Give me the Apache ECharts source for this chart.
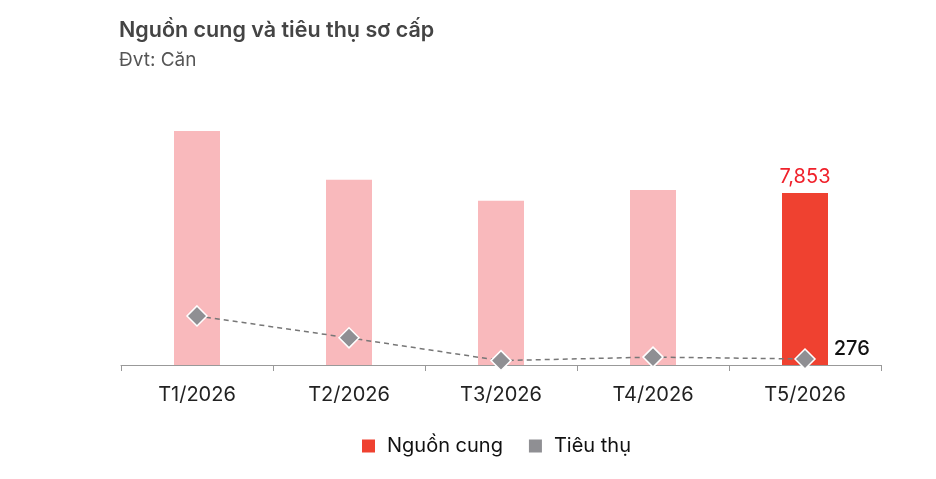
<!DOCTYPE html>
<html>
<head>
<meta charset="utf-8">
<script src="https://cdn.jsdelivr.net/npm/echarts@6/dist/echarts.min.js"></script>
<style>
  html, body { margin: 0; padding: 0; background: #fff; }
  #chart { width: 936px; height: 479px; }
</style>
</head>
<body>
<div id="chart"></div>
<script>
var months = ['T1/2026', 'T2/2026', 'T3/2026', 'T4/2026', 'T5/2026'];
var nguonCung = [10680, 8450, 7490, 7990, 7853];
var tieuThu = [2240, 1240, 200, 360, 276];

var pink = '#f9b9bc';
var red = '#ef4130';
var gray = '#8f8f93';
var font = 'Inter';

var myChart = echarts.init(document.getElementById('chart'));

var barData = nguonCung.map(function (v, i) {
    var last = i === nguonCung.length - 1;
    return {
        value: v,
        itemStyle: { color: last ? red : pink },
        label: {
            show: last,
            position: 'top',
            distance: 6,
            formatter: function (p) { return p.value.toLocaleString('en-US'); },
            color: '#f0212b',
            fontSize: 20,
            fontFamily: font
        }
    };
});

var lineData = tieuThu.map(function (v, i) {
    var last = i === tieuThu.length - 1;
    return {
        value: v,
        label: {
            show: last,
            position: 'right',
            distance: 18,
            offset: [0, -10],
            color: '#111',
            fontSize: 20,
            fontWeight: 500,
            fontFamily: font
        }
    };
});

var option = {
    animation: false,
    title: [
        {
            text: 'Nguồn cung và tiêu thụ sơ cấp',
            left: 114, top: 15,
            textStyle: { fontSize: 21.5, fontWeight: 600, color: '#444', fontFamily: font }
        },
        {
            text: 'Đvt: Căn',
            left: 114, top: 46,
            textStyle: { fontSize: 19, fontWeight: 'normal', color: '#555', fontFamily: font }
        }
    ],
    legend: {
        bottom: 18,
        left: 357,
        itemWidth: 13,
        itemHeight: 13,
        itemGap: 26,
        textStyle: { fontSize: 20, color: '#111', fontFamily: font, padding: [0, 0, 0, 7] },
        data: [
            { name: 'Nguồn cung', icon: 'rect', itemStyle: { color: red } },
            { name: 'Tiêu thụ', icon: 'rect', itemStyle: { color: gray, borderWidth: 0 } }
        ]
    },
    grid: { left: 121, right: 55, top: 102, bottom: 114 },
    xAxis: {
        type: 'category',
        data: months,
        axisLine: { lineStyle: { color: '#999', width: 1 } },
        axisTick: { show: true, length: 6, lineStyle: { color: '#999' } },
        axisLabel: { fontSize: 20, color: '#222', margin: 20, fontFamily: font }
    },
    yAxis: {
        type: 'value',
        min: 0,
        max: 12000,
        show: false,
        splitLine: { show: false }
    },
    series: [
        {
            name: 'Nguồn cung',
            type: 'bar',
            barWidth: 46,
            data: barData
        },
        {
            name: 'Tiêu thụ',
            type: 'line',
            symbol: 'diamond',
            symbolSize: 20,
            itemStyle: { color: gray, borderColor: '#fff', borderWidth: 1.5 },
            lineStyle: { color: '#777', width: 1.5, type: [5, 4] },
            data: lineData,
            z: 3
        }
    ]
};

myChart.setOption(option);
</script>
</body>
</html>
